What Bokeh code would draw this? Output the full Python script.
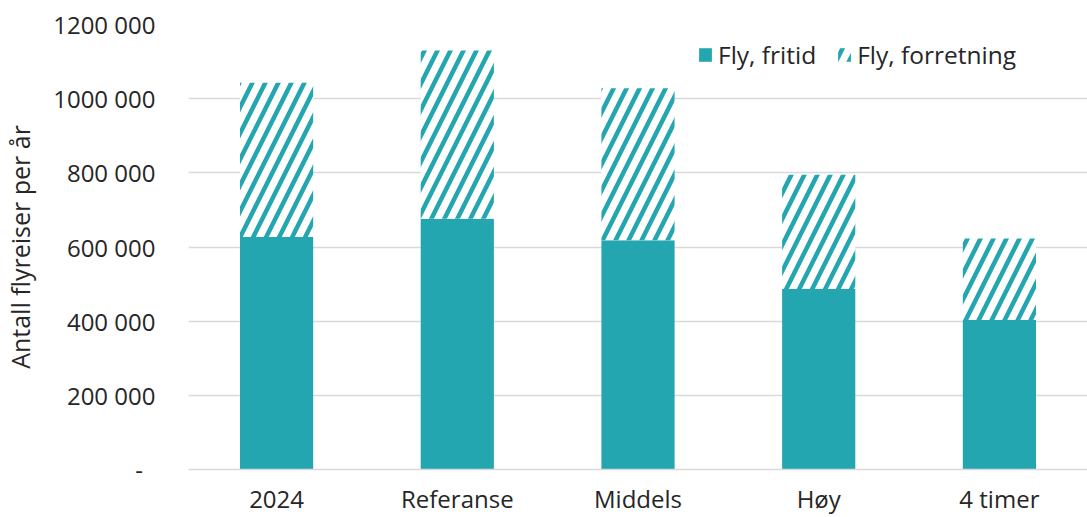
from bokeh.plotting import figure
from bokeh.models import FactorRange, Range1d, FixedTicker, Legend, LegendItem, ColumnDataSource
from bokeh.embed import file_html
from bokeh.resources import INLINE

categories = ["2024", "Referanse", "Middels", "Høy", "4 timer"]
fritid = [627000, 676000, 618000, 487000, 403000]
forretning = [416000, 454000, 410000, 308000, 220000]
series_names = ["Fly, fritid", "Fly, forretning"]
y_ticks = [0, 200000, 400000, 600000, 800000, 1000000, 1200000]
y_tick_labels = ["-\u00a0\u00a0", "200 000", "400 000", "600 000", "800 000", "1000 000", "1200 000"]
y_label = "Antall flyreiser per år"

TEAL = "#23A6B0"
FONT = "Open Sans"
TXT = "#262626"
GRID = "#D9D9D9"

source = ColumnDataSource(dict(cat=categories, fritid=fritid, forretning=forretning))

p = figure(x_range=FactorRange(*categories, range_padding=-0.005),
           y_range=Range1d(0, 1200000),
           width=1087, height=517, output_backend="svg", toolbar_location=None,
           min_border_top=24, min_border_right=0, min_border_left=0, min_border_bottom=0)
p.outline_line_color = None

stack = p.vbar_stack(["fritid", "forretning"], x="cat", width=0.405, source=source,
                     fill_color=[TEAL, "white"], line_color=None,
                     hatch_pattern=[" ", "/"], hatch_color=TEAL,
                     hatch_weight=4.5, hatch_scale=26)

legend = Legend(items=[LegendItem(label=series_names[0], renderers=[stack[0]]),
                       LegendItem(label=series_names[1], renderers=[stack[1]])],
                orientation="horizontal", location=(509, 398),
                padding=0, spacing=20, label_standoff=5,
                glyph_width=16, glyph_height=17, label_height=32,
                border_line_color=None, background_fill_alpha=0,
                label_text_font=FONT, label_text_font_size="24.5px",
                label_text_color=TXT)
p.add_layout(legend)

p.xgrid.grid_line_color = None
p.ygrid.grid_line_color = GRID
p.ygrid.grid_line_width = 1.5

p.yaxis.ticker = FixedTicker(ticks=y_ticks)
p.yaxis.major_label_overrides = dict(zip(y_ticks, y_tick_labels))
p.yaxis.axis_line_color = None
p.yaxis.major_tick_line_color = None
p.yaxis.major_tick_out = 0
p.yaxis.minor_tick_line_color = None
p.yaxis.major_label_standoff = 33
p.yaxis.axis_label = y_label
p.yaxis.axis_label_standoff = 13
p.yaxis.axis_label_text_font_style = "normal"

p.xaxis.axis_line_color = GRID
p.xaxis.axis_line_width = 1.5
p.xaxis.major_tick_line_color = None
p.xaxis.major_tick_out = 0
p.xaxis.minor_tick_line_color = None
p.xaxis.major_label_standoff = 12

for ax in (p.xaxis[0], p.yaxis[0]):
    ax.major_label_text_font = FONT
    ax.major_label_text_font_size = "24px"
    ax.major_label_text_color = TXT
    ax.axis_label_text_font = FONT
    ax.axis_label_text_font_size = "25px"
    ax.axis_label_text_color = TXT

open("out.html", "w").write(file_html(p, INLINE))
